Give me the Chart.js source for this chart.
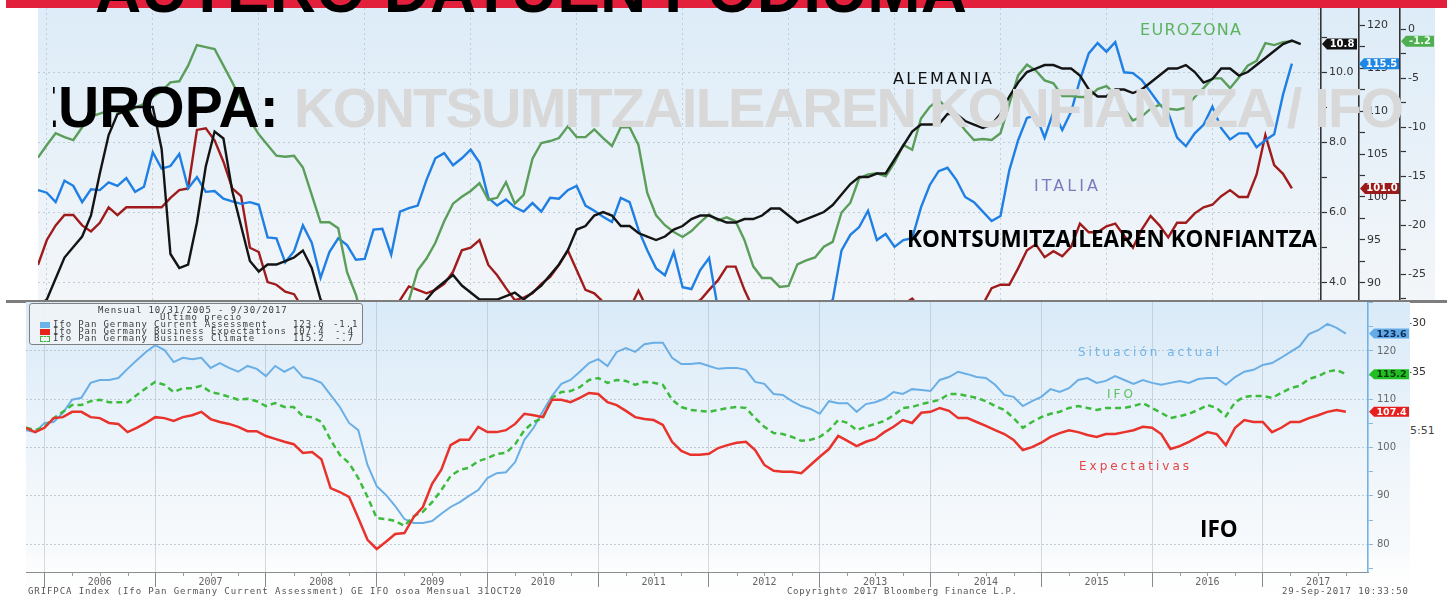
<!DOCTYPE html>
<html lang="eu">
<head>
<meta charset="utf-8">
<title>Europa: kontsumitzailearen konfiantza / IFO</title>
<script src="https://cdn.jsdelivr.net/npm/chart.js@4.4.0/dist/chart.umd.min.js"></script>
<style>
html,body{margin:0;padding:0;background:#fff;}
body{width:1453px;height:596px;overflow:hidden;position:relative;font-family:'DejaVu Sans',sans-serif;}
.a{position:absolute;white-space:nowrap;}
.mono{font-family:'DejaVu Sans Mono',monospace;font-size:9px;line-height:9px;color:#3c3c3c;letter-spacing:0.9px;z-index:9;}
.lbl{font-family:'DejaVu Sans',sans-serif;z-index:3;}
</style>
</head>
<body>
<!-- top panel -->
<div class="a" style="left:38px;top:8px;width:1397px;height:292px;background:linear-gradient(#ddecf8,#f3f6f9);z-index:1"></div>
<canvas id="topChart" class="a" width="1397" height="392" style="left:38px;top:8px;z-index:2"></canvas>
<div class="a lbl" id="lblEZ" style="left:1140px;top:22px;font-size:16px;line-height:16px;color:#5db35d">EUROZONA</div>
<div class="a lbl" id="lblDE" style="left:893px;top:71px;font-size:16px;line-height:16px;color:#111">ALEMANIA</div>
<div class="a lbl" id="lblIT" style="left:1034px;top:178px;font-size:16px;line-height:16px;color:#7b7bbd">ITALIA</div>
<div class="a" style="left:1410px;top:425px;font-size:11px;line-height:11px;color:#444;z-index:1">5:51</div>

<!-- overlay titles -->
<div class="a" id="tEuropa" style="left:20px;top:79px;font:bold 57px/57px 'Liberation Sans',Arial,sans-serif;color:#000;clip-path:inset(0 0 0 33px);z-index:4">EUROPA:</div>
<div class="a" id="tGrey" style="left:294px;top:80px;font:bold 56px/56px 'Liberation Sans',Arial,sans-serif;color:#d8d8d8;z-index:4">KONTSUMITZAILEAREN KONFIANTZA / IFO</div>
<div class="a" id="tKons" style="left:907px;top:226px;font:bold 24px/24px 'Open Sans',sans-serif;color:#000;z-index:4">KONTSUMITZAILEAREN KONFIANTZA</div>

<!-- separator -->
<div class="a" style="left:6px;top:300px;width:1441px;height:3px;background:#7d7d7d;z-index:5"></div>

<!-- bottom panel -->
<div class="a" style="left:26px;top:302px;width:1384px;height:294px;background:linear-gradient(#d9eaf8 0px,#e8f2fa 110px,#f2f7fb 190px,#f7fafc 250px,#fbfcfd 258px,#ffffff 294px);z-index:6"></div>
<canvas id="botChart" class="a" width="1384" height="294" style="left:26px;top:302px;z-index:7"></canvas>
<div class="a" style="left:29px;top:303px;width:332px;height:40px;border:1px solid #808080;border-radius:3px;background:rgba(237,242,246,0.96);z-index:8"></div>
<div class="a mono" id="lgHead" style="left:98px;top:306px">Mensual 10/31/2005 - 9/30/2017</div>
<div class="a mono" id="lgSub" style="left:160px;top:313px">Último precio</div>
<div class="a" style="left:40px;top:322px;width:10px;height:6px;background:#6ab4ea;z-index:9"></div>
<div class="a" style="left:40px;top:329px;width:10px;height:6px;background:#e4231b;z-index:9"></div>
<div class="a" style="left:40px;top:336px;width:8px;height:4px;border:1px dashed #3cb83c;z-index:9"></div>
<div class="a mono" style="left:53px;top:320px">Ifo Pan Germany Current Assessment</div>
<div class="a mono" style="left:53px;top:327px">Ifo Pan Germany Business Expectations</div>
<div class="a mono" style="left:53px;top:334px">Ifo Pan Germany Business Climate</div>
<div class="a mono" style="left:293px;top:320px">123.6</div>
<div class="a mono" style="left:333px;top:320px">-1.1</div>
<div class="a mono" style="left:293px;top:327px">107.4</div>
<div class="a mono" style="left:335px;top:327px">-.4</div>
<div class="a mono" style="left:293px;top:334px">115.2</div>
<div class="a mono" style="left:335px;top:334px">-.7</div>
<div class="a lbl" id="lbSit" style="left:1078px;top:346px;font-size:12px;line-height:12px;color:#73b3e5;z-index:9">Situación actual</div>
<div class="a lbl" id="lbIfo" style="left:1107px;top:388px;font-size:12px;line-height:12px;color:#5cc05c;z-index:9">IFO</div>
<div class="a lbl" id="lbExp" style="left:1079px;top:460px;font-size:12px;line-height:12px;color:#e34545;z-index:9">Expectativas</div>
<div class="a" id="tIfo" style="left:1200px;top:516px;font:bold 24px/24px 'Open Sans',sans-serif;color:#000;z-index:9">IFO</div>
<div class="a mono" id="ft1" style="left:28px;top:587px;color:#555">GRIFPCA Index (Ifo Pan Germany Current Assessment) GE  IFO osoa  Mensual 31OCT20</div>
<div class="a mono" id="ft2" style="left:787px;top:587px;color:#555">Copyright© 2017 Bloomberg Finance L.P.</div>
<div class="a mono" id="ft3" style="left:1282px;top:587px;color:#555">29-Sep-2017 10:33:50</div>

<!-- red bar + big title -->
<div class="a" style="left:6px;top:0;width:1441px;height:8px;background:#e3203c;z-index:10"></div>
<div class="a" id="tBig" style="left:95px;top:-42px;font:bold 64px/64px 'Liberation Sans',Arial,sans-serif;color:#000;z-index:11">AUTERO DATUEN PODIUMA</div>

<script>
// ---- categories (month ends, Oct 2005 .. Sep 2017) ----
const months = [];
for (let y = 2005, m = 10; months.length < 144; ) { months.push(y + '-' + String(m).padStart(2, '0')); m++; if (m > 12) { m = 1; y++; } }
const years = ['2006','2007','2008','2009','2010','2011','2012','2013','2014','2015','2016','2017'];

// ---- consumer confidence (top panel) ----
const alemania = [3.3,3.5,4.1,4.7,5.0,5.3,5.9,7.1,8.2,8.8, 8.9,9.0,9.0,9.0,7.8,4.8,4.4,4.5,5.7,7.3,
 8.3,8.1,6.6,5.6,4.6,4.3,4.5,4.5,4.6,4.7, 4.9,4.4,3.5,3.2,2.8,2.5,2.2,2.1,2.2,2.3,
 2.5,2.7,2.9,3.2,3.5,3.8,4.0,4.2,3.9,3.7, 3.5,3.5,3.5,3.6,3.7,3.5,3.7,3.9,4.2,4.5,
 4.9,5.5,5.6,5.9,6.0,5.9,5.6,5.6,5.4,5.3, 5.2,5.3,5.5,5.6,5.8,5.9,5.9,5.8,5.7,5.7,
 5.8,5.8,5.9,6.1,6.1,5.9,5.7,5.8,5.9,6.0, 6.2,6.5,6.8,7.0,7.0,7.1,7.1,7.5,7.9,8.3,
 8.5,8.5,8.5,8.8,8.8,8.6,8.5,8.4,8.5,8.8, 9.3,9.7,10.0,10.1,10.2,10.2,10.1,10.1,9.9,9.5,
 9.3,9.3,9.5,9.5,9.4,9.5,9.7,9.9,10.1,10.1, 10.2,10.0,9.7,9.8,10.1,10.1,9.9,10.0,10.2,10.4,
 10.6,10.8,10.9,10.8];
const eurozona = [-13.1,-11.8,-10.6,-11.0,-11.3,-10.0,-8.9,-8.6,-8.3,-8.4, -8.5,-8.0,-7.6,-6.9,-6.3,-5.4,-5.3,-3.7,-1.6,-1.8,
 -2.0,-3.7,-5.4,-7.2,-9.3,-10.7,-11.8,-12.9,-13.0,-12.9, -14.1,-16.9,-19.7,-19.7,-20.3,-24.8,-27.1,-30.5,-33.5,-34.5,
 -33.8,-31.5,-27.7,-24.6,-23.4,-21.8,-19.6,-17.8,-17.1,-16.5, -15.7,-17.4,-17.2,-15.6,-17.8,-16.9,-13.2,-11.6,-11.4,-11.1,
 -9.9,-11.0,-11.0,-10.2,-11.1,-11.9,-10.0,-10.0,-11.8,-16.7, -19.0,-20.0,-20.7,-21.2,-20.6,-19.7,-18.9,-19.5,-19.2,-19.6,
 -21.5,-24.2,-25.4,-25.4,-26.3,-26.2,-24.0,-23.6,-23.3,-22.2, -21.7,-18.7,-17.7,-15.2,-14.8,-14.7,-15.0,-13.6,-11.8,-12.3,
 -9.1,-7.9,-7.2,-8.1,-9.1,-10.3,-11.3,-11.2,-11.3,-10.6, -7.6,-4.7,-3.6,-4.2,-5.2,-5.5,-6.8,-6.8,-6.9,-6.9,
 -6.1,-5.8,-6.6,-8.1,-9.3,-8.9,-8.1,-7.7,-8.1,-8.2, -8.0,-6.9,-6.0,-5.0,-5.0,-6.0,-4.9,-3.7,-3.2,-1.4,
 -1.6,-1.3,-1.2];
const italia = [100.8,100.5,99.4,101.9,101.3,99.4,100.9,100.8,101.7,101.3, 102.2,100.6,101.2,105.2,103.3,103.6,105.0,101.0,102.3,100.6,
 100.7,99.8,99.5,99.2,99.4,99.1,95.3,95.2,92.4,93.7, 96.7,94.7,90.6,93.6,95.2,94.4,92.7,92.8,96.2,96.3,
 93.3,98.3,98.7,99.0,102.0,104.5,105.1,103.7,104.5,105.5, 104.0,99.9,99.0,99.7,98.8,98.3,99.3,98.3,99.9,99.8,
 100.8,101.3,99.0,98.4,97.7,97.1,99.9,99.4,96.2,93.8, 91.7,90.9,93.6,89.5,89.3,91.5,92.9,87.0,86.5,86.0,
 86.5,86.0,85.5,85.0,85.3,84.8,85.5,86.0,86.5,87.5, 88.0,93.8,95.6,96.5,98.4,95.0,95.7,94.2,95.0,95.2,
 98.8,101.4,103.0,103.4,102.0,100.0,99.4,98.3,97.2,97.8, 103.1,106.6,109.2,109.5,106.9,109.9,107.8,109.9,113.6,116.7,
 117.9,116.9,118.0,114.5,114.4,113.6,112.2,110.8,109.8,106.9, 105.9,107.4,108.4,110.5,108.0,106.7,107.4,107.4,105.8,106.6,
 107.3,111.9,115.5];
const laugarrena = [92.1,95.0,96.7,97.9,97.9,96.7,96.0,97.0,98.8,97.9, 98.8,98.8,98.8,98.8,98.8,99.9,100.8,101.0,107.8,108.0,
 106.6,104.1,101.0,100.1,94.1,93.6,90.1,89.8,89.0,88.7, 87.0,86.0,85.0,84.0,83.0,82.5,82.0,82.5,83.5,84.5,
 86.0,88.0,89.6,89.2,88.8,89.2,89.9,91.3,93.8,94.1, 95.0,92.1,90.9,89.4,88.0,88.3,88.8,89.9,90.7,92.1,
 93.8,91.5,89.2,88.8,87.8,87.0,86.5,87.0,89.1,87.0, 86.5,86.0,86.5,87.0,87.5,88.0,89.2,90.3,91.9,91.9,
 89.2,87.0,86.0,85.0,84.5,84.0,84.5,84.0,84.5,85.0, 85.5,85.5,86.0,86.5,87.0,86.5,87.5,87.8,87.5,88.2,
 87.0,86.5,86.0,86.5,86.0,86.5,87.0,87.5,89.4,89.8, 89.8,91.7,93.8,94.5,93.0,93.7,93.1,94.2,96.9,95.9,
 95.9,96.6,96.9,95.5,94.1,96.2,97.8,96.7,95.3,97.0, 97.0,98.1,98.8,99.1,100.1,100.8,100.0,100.0,102.6,107.2,
 103.7,102.7,101.0];

// ---- Ifo (bottom panel) ----
const ifoSituacion = [103.6,103.2,105.1,105.3,107.2,109.9,110.3,113.4,114.0,114.0, 114.4,116.3,118.1,119.8,121.2,120.2,117.7,118.6,118.3,118.6,
 116.5,117.5,116.5,115.7,116.9,116.3,114.8,116.9,115.7,116.7, 114.6,114.2,113.4,110.9,108.4,105.1,103.6,96.4,92.0,90.2,
 87.9,85.2,84.4,84.4,84.8,86.3,87.7,88.7,90.0,91.2, 93.7,94.7,94.9,97.0,101.6,104.1,107.5,110.7,113.2,114.0,
 115.7,117.5,118.3,116.9,119.8,120.6,119.8,121.4,121.7,121.7, 118.6,117.3,117.3,117.5,116.9,116.3,116.5,116.5,116.1,113.6,
 113.2,111.1,110.9,109.6,108.6,108.0,107.0,109.6,109.2,109.2, 107.4,109.0,109.4,110.1,111.5,111.1,112.1,111.9,111.7,114.0,
 114.6,115.7,115.2,114.6,114.4,113.0,110.9,110.5,108.6,109.6, 110.5,112.1,111.5,112.3,114.0,114.4,113.4,113.8,114.8,114.0,
 113.2,114.0,113.4,113.0,113.4,113.8,113.4,114.2,114.4,114.4, 113.0,114.6,115.7,116.1,117.1,117.5,118.6,119.8,121.0,123.5,
 124.3,125.6,124.8,123.6];
const ifoExpectativas = [104.1,103.2,104.1,106.1,106.3,107.4,107.4,106.3,106.1,105.1, 104.9,103.2,104.1,105.1,106.3,106.1,105.5,106.3,106.7,107.4,
 105.9,105.3,104.9,104.3,103.4,103.4,102.4,101.8,101.2,100.7, 98.9,99.1,97.6,91.6,90.8,89.8,85.4,80.9,79.0,80.5,
 82.1,82.3,85.6,87.7,92.5,95.4,100.5,101.6,101.6,104.3, 103.2,103.2,103.6,104.9,107.0,106.7,106.3,109.9,109.9,109.4,
 110.3,111.3,111.1,109.4,108.8,107.6,106.3,105.9,105.7,104.7, 101.2,99.3,98.5,98.5,98.7,99.9,100.5,101.0,101.2,99.5,
 96.4,95.2,95.0,95.0,94.7,96.4,98.1,99.7,102.4,101.4, 100.3,101.2,101.8,103.2,104.3,105.7,105.1,107.2,107.4,108.2,
 107.6,106.1,106.1,105.3,104.5,103.6,102.8,101.6,99.5,100.1, 101.0,102.2,103.0,103.6,103.2,102.6,102.2,102.8,102.8,103.2,
 103.6,104.3,104.1,102.8,99.7,100.3,101.2,102.2,103.2,102.8, 100.5,104.1,105.7,105.3,105.3,103.2,104.1,105.3,105.3,106.1,
 106.7,107.4,107.8,107.4];
const ifoClima = [104.1,103.6,104.3,106.1,107.4,108.8,108.8,109.6,109.9,109.4, 109.4,109.4,110.9,112.3,113.6,113.0,111.5,112.3,112.3,112.8,
 111.5,111.1,110.5,109.9,110.1,109.6,108.6,109.2,108.4,108.4, 106.5,106.3,105.3,101.6,98.5,96.8,93.7,89.8,85.4,85.2,
 84.8,83.8,85.8,86.7,88.7,91.2,94.1,95.4,95.8,97.2, 97.8,98.7,98.9,100.7,103.6,105.3,106.1,110.3,111.5,111.7,
 112.5,114.0,114.4,113.4,114.0,113.8,113.0,113.6,113.4,113.0, 109.9,108.4,107.8,107.6,107.4,107.8,108.2,108.4,108.2,106.1,
 104.3,103.0,102.8,102.2,101.4,101.6,102.2,103.6,105.7,105.1, 103.6,104.3,104.9,105.5,106.7,108.2,108.4,109.0,109.4,109.9,
 111.1,111.1,110.7,110.3,109.6,108.6,107.8,106.1,104.1,105.3, 106.3,107.0,107.4,108.2,108.6,108.2,107.8,108.2,108.2,108.2,
 108.6,109.2,108.2,107.2,106.1,106.5,107.0,107.8,108.8,108.2, 106.5,109.4,110.5,110.7,110.7,110.3,111.3,112.3,112.8,114.2,
 114.8,115.7,116.1,115.2];

// ---- helpers ----
const monthIdx = months.map((_, i) => i);
const topYearLines = [1, 13, 25, 37, 49, 61, 73, 85, 97, 109, 121, 133, 145];
const botYearBounds = years.map((_, k) => 2 + 12 * k);
const botYearMids = years.map((_, k) => 8 + 12 * k);

const tagPlugin = {
  id: 'tags',
  afterDatasetsDraw(chart, args, opts) {
    const ctx = chart.ctx;
    (opts.items || []).forEach(t => {
      const ds = chart.data.datasets[t.ds];
      const v = ds.data[ds.data.length - 1];
      const sc = chart.scales[ds.yAxisID];
      const y = sc.getPixelForValue(v);
      const x0 = sc.left + (t.dx || 0), x1 = sc.left + (t.w || sc.width) - 1, h = t.h || 11, a = 5;
      ctx.save();
      ctx.beginPath();
      ctx.moveTo(x0, y); ctx.lineTo(x0 + a, y - h / 2); ctx.lineTo(x1, y - h / 2);
      ctx.lineTo(x1, y + h / 2); ctx.lineTo(x0 + a, y + h / 2); ctx.closePath();
      ctx.fillStyle = t.bg; ctx.fill();
      ctx.fillStyle = t.fg; ctx.font = (t.font || 'bold 10px "DejaVu Sans"');
      ctx.textAlign = 'center'; ctx.textBaseline = 'middle';
      ctx.fillText(v.toFixed(1), (x0 + a + x1) / 2, y + 0.5);
      ctx.restore();
    });
  }
};
const quarterPlugin = {
  id: 'quarters',
  afterDraw(chart) {
    const sx = chart.scales.x, ctx = chart.ctx, y0 = chart.chartArea.bottom;
    ctx.save(); ctx.strokeStyle = '#9a9a9a'; ctx.lineWidth = 1;
    for (let q = 2; q < months.length; q += 3) {
      if (botYearBounds.includes(q)) continue;
      const x = Math.round(sx.getPixelForValue(q)) + 0.5;
      ctx.beginPath(); ctx.moveTo(x, y0); ctx.lineTo(x, y0 + 4); ctx.stroke();
    }
    ctx.restore();
  }
};
const noPad = s => { s.paddingTop = 0; s.paddingBottom = 0; s.paddingLeft = 0; s.paddingRight = 0; };
const line = (label, data, color, axis, w, extra) => Object.assign({ label, data, borderColor: color, backgroundColor: color, yAxisID: axis, borderWidth: w, pointRadius: 0, tension: 0, fill: false }, extra || {});

// ---- top chart ----
new Chart(document.getElementById('topChart'), {
  type: 'line',
  data: {
    labels: monthIdx,
    datasets: [
      line('ALEMANIA', alemania, '#141414', 'yA', 2.4),
      line('EUROZONA', eurozona, '#5a9e5a', 'yC', 2.4),
      line('ITALIA', italia, '#1f7fe3', 'yB', 2.4),
      line('Beste serie', laugarrena, '#a01b1b', 'yB', 2.4)
    ]
  },
  plugins: [tagPlugin],
  options: {
    responsive: false, animation: false, devicePixelRatio: 1,
    layout: { padding: 0 },
    plugins: {
      legend: { display: false }, tooltip: { enabled: false },
      tags: { items: [
        { ds: 0, bg: '#111111', fg: '#ffffff', dx: 1, w: 37 },
        { ds: 2, bg: '#1e86e4', fg: '#ffffff', dx: 0, w: 41 },
        { ds: 3, bg: '#9b1a1a', fg: '#ffffff', dx: 1, w: 41 },
        { ds: 1, bg: '#4fae50', fg: '#eaffea', dx: 1, w: 35 }
      ] }
    },
    scales: {
      x: {
        type: 'linear', min: 0, max: 145.3, display: true,
        afterBuildTicks: s => { s.ticks = topYearLines.map(v => ({ value: v })); },
        ticks: { display: false },
        grid: { drawTicks: false, color: 'rgba(160,178,195,0.55)', lineWidth: 1 },
        border: { display: false, dash: [2, 3] },
        afterFit: s => { s.height = 0; noPad(s); }
      },
      yA: {
        position: 'right', min: 0.629, max: 11.829,
        ticks: { stepSize: 1, includeBounds: false, padding: 2, color: '#333', font: { family: 'DejaVu Sans', size: 11 },
          callback: v => (Math.abs(v % 2) < 1e-6 ? v.toFixed(1) : '') },
        grid: { drawOnChartArea: true, tickLength: 6, tickWidth: 1.2, tickColor: '#333',
          color: c => (c.tick && Math.abs(c.tick.value % 2) < 1e-6) ? 'rgba(160,178,195,0.6)' : 'transparent' },
        border: { display: true, color: '#333', width: 1.6, dash: [2, 3] },
        afterFit: s => { s.width = 38; noPad(s); }
      },
      yB: {
        position: 'right', min: 76.395, max: 121.977,
        ticks: { stepSize: 2.5, includeBounds: false, padding: 2, color: '#333', font: { family: 'DejaVu Sans', size: 11 },
          callback: v => (Math.abs(v % 5) < 1e-6 ? String(v) : '') },
        grid: { drawOnChartArea: false, tickLength: 6, tickWidth: 1.2, tickColor: '#333' },
        border: { display: true, color: '#333', width: 1.6 },
        afterFit: s => { s.width = 41; noPad(s); }
      },
      yC: {
        position: 'right', min: -37.857, max: 2.19,
        ticks: { stepSize: 2.5, includeBounds: false, padding: 2, color: '#333', font: { family: 'DejaVu Sans', size: 11 },
          callback: v => (Math.abs(v % 5) < 1e-6 ? String(v) : '') },
        grid: { drawOnChartArea: false, tickLength: 6, tickWidth: 1.2, tickColor: '#333' },
        border: { display: true, color: '#333', width: 1.6 },
        afterFit: s => { s.width = 35; noPad(s); }
      }
    }
  }
});

// ---- bottom chart (Ifo) ----
new Chart(document.getElementById('botChart'), {
  type: 'line',
  data: {
    labels: monthIdx,
    datasets: [
      line('Ifo Pan Germany Business Expectations', ifoExpectativas, '#e8322b', 'y', 2.5),
      line('Ifo Pan Germany Business Climate', ifoClima, '#3dbb3d', 'y', 2.5, { borderDash: [6, 4] }),
      line('Ifo Pan Germany Current Assessment', ifoSituacion, '#6aaee6', 'y', 2)
    ]
  },
  plugins: [tagPlugin, quarterPlugin],
  options: {
    responsive: false, animation: false, devicePixelRatio: 1,
    layout: { padding: 0 },
    plugins: {
      legend: { display: false }, tooltip: { enabled: false },
      tags: { items: [
        { ds: 2, bg: '#62abe8', fg: '#0d2a55', dx: 1, w: 42, h: 10, font: 'bold 9.5px "DejaVu Sans"' },
        { ds: 1, bg: '#22bf22', fg: '#0b3a0b', dx: 1, w: 42, h: 10, font: 'bold 9.5px "DejaVu Sans"' },
        { ds: 0, bg: '#e61e1e', fg: '#ffffff', dx: 1, w: 42, h: 10, font: 'bold 9.5px "DejaVu Sans"' }
      ] }
    },
    scales: {
      x: {
        type: 'linear', min: 0, max: 145.4, position: 'bottom',
        afterBuildTicks: s => { s.ticks = botYearBounds.concat(botYearMids).sort((a, b) => a - b).map(v => ({ value: v })); },
        ticks: { autoSkip: false, maxRotation: 0, padding: -11, color: '#666', font: { family: 'DejaVu Sans Mono', size: 10 },
          callback: v => { const k = botYearMids.indexOf(v); return k >= 0 ? years[k] : ''; } },
        grid: { tickLength: 15, lineWidth: 1,
          color: c => (c.tick && botYearBounds.includes(c.tick.value)) ? 'rgba(170,182,195,0.5)' : 'transparent',
          tickColor: c => (c.tick && botYearBounds.includes(c.tick.value)) ? '#8a8a8a' : 'transparent' },
        border: { display: true, color: '#8c8c8c', width: 1 },
        afterFit: s => { s.height = 24; noPad(s); }
      },
      y: {
        position: 'right', min: 74.24, max: 130.14,
        ticks: { stepSize: 5, includeBounds: false, padding: 4, color: '#666', font: { family: 'DejaVu Sans', size: 10 },
          callback: v => (Math.abs(v % 10) < 1e-6 && v <= 120 ? String(v) : '') },
        grid: { tickLength: 5, tickColor: '#8db8dc',
          color: c => (c.tick && Math.abs(c.tick.value % 10) < 1e-6 && c.tick.value <= 120) ? 'rgba(160,175,190,0.6)' : 'transparent' },
        border: { display: true, color: '#72b2e6', width: 1.6, dash: [2, 2] },
        afterFit: s => { s.width = 42; noPad(s); }
      }
    }
  }
});

// ---- text fitting ----
function fitLS(id, w) {
  const el = document.getElementById(id); if (!el) return;
  el.style.letterSpacing = '0px';
  const nat = el.getBoundingClientRect().width;
  const n = el.textContent.length;
  el.style.letterSpacing = ((w - nat) / Math.max(1, n - 1)) + 'px';
}
function fitScale(id, w, ref) {
  const el = document.getElementById(id); if (!el) return 1;
  el.style.transform = 'none';
  const nat = el.getBoundingClientRect().width;
  const f = ref || (w / nat);
  el.style.transformOrigin = '0 50%';
  el.style.transform = 'scaleX(' + f + ')';
  return f;
}
function fitAll() {
  fitLS('tBig', 872);
  fitLS('tGrey', 1110);
  fitLS('lblEZ', 101); fitLS('lblDE', 99); fitLS('lblIT', 64);
  fitLS('lbSit', 141); fitLS('lbIfo', 26); fitLS('lbExp', 110);
  fitLS('ft1', 495); fitLS('ft2', 230); fitLS('ft3', 126);
  const f = fitScale('tKons', 410);
  fitScale('tIfo', 0, f);
}
fitAll();
if (document.fonts && document.fonts.ready) document.fonts.ready.then(fitAll);
</script>
</body>
</html>
